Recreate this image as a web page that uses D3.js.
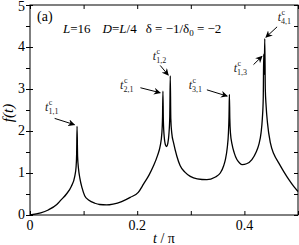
<!DOCTYPE html>
<html>
<head>
<meta charset="utf-8">
<script src="https://cdn.jsdelivr.net/npm/d3@7"></script>
<style>
  body { margin: 0; background: #fff; }
  text { font-family: "Liberation Serif", "Times New Roman", serif; }
</style>
</head>
<body>
<script>
var width = 299,
    height = 245;

// f(t)
var tValues = [0, 0.02, 0.034, 0.05, 0.058, 0.068, 0.077, 0.0835, 0.086, 0.087, 0.0878,
  0.0888, 0.0905, 0.093, 0.097, 0.102, 0.11, 0.121, 0.13, 0.143, 0.155, 0.171, 0.187,
  0.202, 0.212, 0.222, 0.23, 0.238, 0.243, 0.246, 0.2473, 0.248, 0.2488, 0.2505, 0.253,
  0.255, 0.257, 0.259, 0.2608, 0.2617, 0.2627, 0.2645, 0.268, 0.274, 0.28, 0.289, 0.299,
  0.312, 0.33, 0.345, 0.355, 0.3615, 0.3645, 0.368, 0.3702, 0.3713, 0.372, 0.3728, 0.374,
  0.377, 0.381, 0.386, 0.391, 0.396, 0.404, 0.414, 0.422, 0.427, 0.431, 0.4335, 0.4352,
  0.436, 0.437, 0.438, 0.439, 0.4405, 0.443, 0.4486, 0.455, 0.464, 0.474, 0.483, 0.492, 0.5];
var fValues = [0, 0.05, 0.12, 0.25, 0.36, 0.5, 0.68, 0.92, 1.15, 1.45, 2.11,
  1.4, 1.1, 0.88, 0.65, 0.46, 0.35, 0.28, 0.25, 0.24, 0.26, 0.32, 0.42,
  0.54, 0.74, 0.95, 1.16, 1.42, 1.65, 1.95, 2.35, 2.95, 2.25, 1.85, 1.66,
  1.63, 1.7, 1.9, 2.35, 3.31, 2.3, 1.95, 1.71, 1.4, 1.18, 1.02, 0.92,
  0.86, 0.84, 0.9, 1.0, 1.18, 1.32, 1.6, 1.95, 2.35, 2.87, 2.3, 1.95,
  1.68, 1.48, 1.32, 1.24, 1.2, 1.22, 1.32, 1.5, 1.68, 1.95, 2.3, 2.8,
  3.83, 3.35, 4.2, 3.0, 2.6, 2.2, 1.71, 1.45, 1.24, 1.02, 0.84, 0.68, 0.56];

var xTicks = [0, 0.2, 0.4];
var yTicks = [0, 1, 2, 3, 4, 5];

// annotation labels: subscript, text anchor point, arrow start, arrow end (in data units)
var peakLabels = ["1,1", "2,1", "1,2", "3,1", "1,3", "4,1"];
var labelT = [0.028, 0.168, 0.229, 0.296, 0.38, 0.462];
var labelF = [2.48, 3.0, 3.68, 3.0, 3.4, 4.62];
var arrowFrom = [[0.046, 2.3], [0.206, 3.03], [0.243, 3.56], [0.33, 2.98], [0.417, 3.58], [0.461, 4.48]];
var arrowTo = [[0.083, 2.15], [0.243, 2.91], [0.258, 3.33], [0.368, 2.83], [0.433, 3.78], [0.44, 4.23]];

var margin = {top: 5, right: 1, bottom: 30, left: 30};
var w = width - margin.left - margin.right,
    h = height - margin.top - margin.bottom;

var svg = d3.select("body").append("svg")
            .attr("width", width)
            .attr("height", height);

svg.append("defs").append("marker")
   .attr("id", "head")
   .attr("viewBox", "0 0 10 10")
   .attr("refX", 9).attr("refY", 5)
   .attr("markerWidth", 7).attr("markerHeight", 7)
   .attr("markerUnits", "userSpaceOnUse")
   .attr("orient", "auto")
   .append("path")
   .attr("d", "M0,0 L10,5 L0,10 L3,5 Z")
   .attr("fill", "#000");

var g = svg.append("g")
           .attr("transform", "translate(" + margin.left + "," + margin.top + ")");

var x = d3.scaleLinear().domain([0, 0.5]).range([0, w]);
var y = d3.scaleLinear().domain([0, 5]).range([h, 0]);

var xMinor = d3.range(0, 0.51, 0.1);
var yMinor = d3.range(0, 5.01, 0.5);

// bottom/top/right ticks point inward, left ticks point outward (majors cross)
g.append("g").attr("transform", "translate(0," + h + ")")
 .call(d3.axisTop(x).tickValues(xMinor).tickSize(4).tickFormat(""));
g.append("g")
 .call(d3.axisBottom(x).tickValues(xMinor).tickSize(4).tickFormat(""));
g.append("g")
 .call(d3.axisLeft(y).tickValues(yMinor).tickSize(4).tickFormat(""));
g.append("g")
 .call(d3.axisRight(y).tickValues(yTicks).tickSize(3).tickFormat(""));
g.append("g").attr("transform", "translate(" + w + ",0)")
 .call(d3.axisLeft(y).tickValues(yMinor).tickSize(4).tickFormat(""));
g.selectAll(".domain").remove();
g.selectAll(".tick line").attr("stroke", "#000");

g.append("rect")
 .attr("width", w).attr("height", h)
 .attr("fill", "none").attr("stroke", "#000").attr("stroke-width", 1);

// tick labels
g.selectAll(".xl").data(xTicks).enter().append("text")
 .attr("x", function(d) { return x(d); })
 .attr("y", h + 15)
 .attr("text-anchor", "middle")
 .attr("font-size", 14)
 .text(function(d) { return d === 0 ? "0" : d3.format(".1f")(d); });

g.selectAll(".yl").data(yTicks).enter().append("text")
 .attr("x", -5)
 .attr("y", function(d) { return Math.max(y(d) + 4, 6); })
 .attr("text-anchor", "end")
 .attr("font-size", 14)
 .text(function(d) { return d; });

// curve
var pts = tValues.map(function(t, i) { return [t, fValues[i]]; });
var line = d3.line()
             .x(function(d) { return x(d[0]); })
             .y(function(d) { return y(d[1]); })
             .curve(d3.curveMonotoneX);

g.append("path")
 .datum(pts)
 .attr("d", line)
 .attr("fill", "none")
 .attr("stroke", "#000")
 .attr("stroke-width", 1.3);

// axis titles
svg.append("text")
   .attr("transform", "translate(13," + (margin.top + h / 2 + 3) + ") rotate(-90)")
   .attr("text-anchor", "middle")
   .attr("font-size", 15)
   .attr("font-style", "italic")
   .text("f(t)");

svg.append("text")
   .attr("x", margin.left + x(0.25))
   .attr("y", 243)
   .attr("text-anchor", "middle")
   .attr("font-size", 14)
   .html('<tspan font-style="italic">t</tspan> / π');

// panel text
g.append("text").attr("x", 7).attr("y", 16).attr("font-size", 14).text("(a)");

var info = g.append("text").attr("x", 33).attr("y", 28).attr("font-size", 13);
info.append("tspan").attr("font-style", "italic").text("L");
info.append("tspan").text("=16");
info.append("tspan").attr("dx", 12).attr("font-style", "italic").text("D");
info.append("tspan").text("=");
info.append("tspan").attr("font-style", "italic").text("L");
info.append("tspan").text("/4");
info.append("tspan").attr("dx", 9).text("δ = −1/δ");
info.append("tspan").attr("dy", 3).attr("font-size", 9).text("0");
info.append("tspan").attr("dy", -3).text(" = −2");

// peak annotations
peakLabels.forEach(function(s, i) {
  var lab = g.append("text")
             .attr("x", x(labelT[i]))
             .attr("y", y(labelF[i]))
             .attr("font-size", 12)
             .attr("fill", "#222");
  lab.append("tspan").attr("font-style", "italic").text("t");
  lab.append("tspan").attr("font-size", 8).attr("dy", -6).attr("dx", 0.5).text("c");
  lab.append("tspan").attr("font-size", 8).attr("dy", 9).attr("dx", -4).text(s);

  g.append("line")
   .attr("x1", x(arrowFrom[i][0])).attr("y1", y(arrowFrom[i][1]))
   .attr("x2", x(arrowTo[i][0])).attr("y2", y(arrowTo[i][1]))
   .attr("stroke", "#000")
   .attr("stroke-width", 1)
   .attr("marker-end", "url(#head)");
});
</script>
</body>
</html>
